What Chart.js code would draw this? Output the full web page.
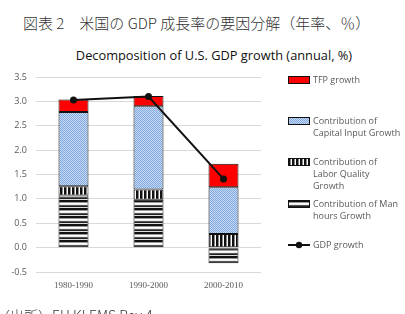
<!DOCTYPE html>
<html lang="ja">
<head>
<meta charset="UTF-8">
<title>米国のGDP成長率の要因分解</title>
<script src="https://cdn.jsdelivr.net/npm/chart.js"></script>
<style>
  html, body { margin: 0; padding: 0; background: #fff; overflow: hidden; }
  body { width: 405px; height: 314px; position: relative; }
  .jp-title {
    position: absolute; left: 23px; top: 12px; white-space: nowrap;
    font-family: "Noto Sans CJK JP", sans-serif; font-weight: 300; font-size: 15px; color: #333;
  }
  .en-title {
    position: absolute; left: 0; width: 428px; top: 46px; text-align: center;
    font-family: "Open Sans", sans-serif; font-size: 12.8px; color: #111;
  }
  .source {
    position: absolute; left: -4px; top: 305px; white-space: nowrap;
    font-family: "Noto Sans CJK JP", sans-serif; font-weight: 300; font-size: 14px; color: #333;
  }
  #wrap { position: absolute; left: 0; top: 0; width: 405px; height: 314px; }
</style>
</head>
<body>
<div class="jp-title">図表 2　米国の GDP 成長率の要因分解（年率、％）</div>
<div class="en-title">Decomposition of U.S. GDP growth (annual, %)</div>
<div id="wrap"><canvas id="chart"></canvas></div>
<div class="source">（出所）EU KLEMS Rev.4</div>

<script>
// data
const periods = ["1980-1990", "1990-2000", "2000-2010"];
const manHours = [1.07, 0.98, -0.32];
const laborQuality = [0.19, 0.21, 0.28];
const capitalInput = [1.52, 1.71, 0.96];
const tfpGrowth = [0.26, 0.21, 0.48];
const gdpGrowth = [3.03, 3.10, 1.41];
const yTicks = [-0.5, 0.0, 0.5, 1.0, 1.5, 2.0, 2.5, 3.0, 3.5];

const labelTfp = ["TFP growth"];
const labelCapital = ["Contribution of", "Capital Input Growth"];
const labelQuality = ["Contribution of", "Labor Quality", "Growth"];
const labelHours = ["Contribution of Man", "hours Growth"];
const labelGdp = ["GDP growth"];

function makePattern(w, h, draw) {
  const c = document.createElement("canvas");
  c.width = w; c.height = h;
  const g = c.getContext("2d");
  draw(g);
  return g.createPattern(c, "repeat");
}

const capitalFill = makePattern(4, 4, g => {
  g.fillStyle = "#c9dcf3"; g.fillRect(0, 0, 4, 4);
  g.fillStyle = "#7fa7dd";
  for (let i = 0; i < 4; i++) g.fillRect((i + 1) % 4, 3 - i, 1, 1);
  for (let i = 0; i < 4; i++) g.fillRect((i + 3) % 4, 3 - i, 1, 1);
});
const qualityFill = makePattern(4, 4, g => {
  g.fillStyle = "#ffffff"; g.fillRect(0, 0, 4, 4);
  g.fillStyle = "#111"; g.fillRect(0, 0, 2, 4);
  g.fillStyle = "#888"; g.fillRect(2, 0, 1, 4);
});
const hoursFill = makePattern(4, 8, g => {
  const rows = ["#111", "#111", "#999", "#fff", "#eee", "#555", "#222", "#ddd"];
  rows.forEach((col, i) => { g.fillStyle = col; g.fillRect(0, i, 4, 1); });
});

const barCommon = {
  type: "bar", stack: "bars", order: 1,
  borderColor: "#111", borderWidth: 1, borderSkipped: false,
  barPercentage: 0.8, categoryPercentage: 0.5
};

const datasets = [
  Object.assign({ label: labelHours, data: manHours, backgroundColor: hoursFill }, barCommon),
  Object.assign({ label: labelQuality, data: laborQuality, backgroundColor: qualityFill }, barCommon),
  Object.assign({ label: labelCapital, data: capitalInput, backgroundColor: capitalFill }, barCommon),
  Object.assign({ label: labelTfp, data: tfpGrowth, backgroundColor: "#ff0000" }, barCommon),
  {
    type: "line", label: labelGdp, data: gdpGrowth, stack: "line", order: 0,
    borderColor: "#111", backgroundColor: "#111", borderWidth: 2,
    pointRadius: 3.5, pointBackgroundColor: "#111", pointBorderWidth: 0, tension: 0
  }
];

// legend drawn at right, in the order of the original
const legendPlugin = {
  id: "sideLegend",
  afterDraw(chart) {
    const ctx = chart.ctx;
    const ds = chart.data.datasets;
    const items = [
      { d: ds[3], y: 80 },
      { d: ds[2], y: 121 },
      { d: ds[1], y: 162 },
      { d: ds[0], y: 204 },
      { d: ds[4], y: 245, line: true }
    ];
    const sx = 288, sw = 22, tx = 313, lh = 12.3;
    ctx.save();
    ctx.font = "9px 'Open Sans', sans-serif";
    ctx.textBaseline = "middle";
    items.forEach(it => {
      if (it.line) {
        ctx.strokeStyle = "#111"; ctx.lineWidth = 2;
        ctx.beginPath(); ctx.moveTo(sx, it.y); ctx.lineTo(sx + sw, it.y); ctx.stroke();
        ctx.fillStyle = "#111";
        ctx.beginPath(); ctx.arc(sx + sw / 2, it.y, 3.2, 0, Math.PI * 2); ctx.fill();
      } else {
        ctx.fillStyle = it.d.backgroundColor;
        ctx.fillRect(sx, it.y - 3.5, sw, 7);
        ctx.strokeStyle = "#111"; ctx.lineWidth = 1;
        ctx.strokeRect(sx + 0.5, it.y - 3.5, sw - 1, 7);
      }
      ctx.fillStyle = "#595959";
      it.d.label.forEach((t, i) => ctx.fillText(t, tx, it.y + i * lh));
    });
    ctx.restore();
  }
};

new Chart(document.getElementById("chart"), {
  data: { labels: periods, datasets: datasets },
  plugins: [legendPlugin],
  options: {
    responsive: true,
    maintainAspectRatio: false,
    animation: false,
    layout: { padding: { left: 0, right: 144, top: 77, bottom: 22 } },
    plugins: {
      legend: { display: false },
      tooltip: { enabled: false },
      title: { display: false }
    },
    scales: {
      x: {
        stacked: true,
        grid: { display: false },
        border: { display: false },
        ticks: { color: "#595959", font: { family: "Liberation Serif", size: 9 }, padding: 0 },
        afterFit: s => { s.height = 20; }
      },
      y: {
        stacked: true,
        min: -0.5, max: 3.5,
        afterBuildTicks: s => { s.ticks = yTicks.map(v => ({ value: v })); },
        grid: { color: "#d9d9d9", lineWidth: 1, drawTicks: false },
        border: { display: false },
        ticks: {
          color: "#595959", font: { family: "'Open Sans', sans-serif", size: 9 }, padding: 9,
          callback: v => v.toFixed(1)
        },
        afterFit: s => { s.width = 36; }
      }
    }
  }
});
</script>
</body>
</html>
